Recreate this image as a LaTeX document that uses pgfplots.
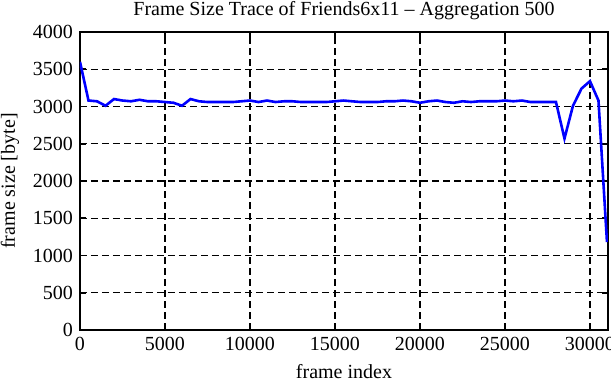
\documentclass[border=0pt]{standalone}
\usepackage{fontspec}
\setmainfont{Liberation Serif}
\usepackage{pgfplots}
\pgfplotsset{compat=1.18}
\begin{document}
\begin{tikzpicture}
\begin{axis}[
  scale only axis,
  width=264pt, height=149pt,
  xmin=0, xmax=31060, ymin=0, ymax=4000,
  xtick={0,5000,...,30000},
  ytick={0,500,...,4000},
  scaled x ticks=false, scaled y ticks=false,
  /pgf/number format/assume math mode=true,
  /pgf/number format/set thousands separator={},
  tick align=inside,
  major tick length=3pt,
  tick style={black, line width=0.8pt},
  axis line style={black, line width=1pt},
  grid=major,
  major grid style={black, line width=0.6pt, dash pattern=on 3.5pt off 2pt},
  title={Frame Size Trace of Friends6x11 -- Aggregation 500},
  xlabel={frame index},
  ylabel={frame size [byte]},
  every tick label/.append style={font=\fontsize{10}{12}\selectfont},
  label style={font=\fontsize{10}{12}\selectfont},
  title style={font=\fontsize{10}{12}\selectfont, yshift=-3.5pt},
]
\addplot[color={rgb,255:red,0;green,0;blue,255}, line width=1.3pt, mark=none] coordinates {
(0,3600) (500,3080) (1000,3070) (1500,3010) (2000,3100) (2500,3080)
(3000,3070) (3500,3090) (4000,3070) (4500,3070) (5000,3060) (5500,3050)
(6000,3010) (6500,3100) (7000,3070) (7500,3060) (8000,3060) (8500,3060)
(9000,3060) (9500,3070) (10000,3080) (10500,3060) (11000,3080) (11500,3060)
(12000,3070) (12500,3070) (13000,3060) (13500,3060) (14000,3060) (14500,3060)
(15000,3070) (15500,3080) (16000,3070) (16500,3060) (17000,3060) (17500,3060)
(18000,3070) (18500,3070) (19000,3080) (19500,3070) (20000,3050) (20500,3070)
(21000,3080) (21500,3060) (22000,3050) (22500,3070) (23000,3060) (23500,3070)
(24000,3070) (24500,3070) (25000,3080) (25500,3070) (26000,3080) (26500,3060)
(27000,3060) (27500,3060) (28000,3060) (28500,2570) (29000,3010) (29500,3240)
(30000,3340) (30500,3080) (31000,1180)
};
\end{axis}
\pgfresetboundingbox
\path (-40pt,-25pt) rectangle (265.5pt,165pt);
\end{tikzpicture}
\end{document}
